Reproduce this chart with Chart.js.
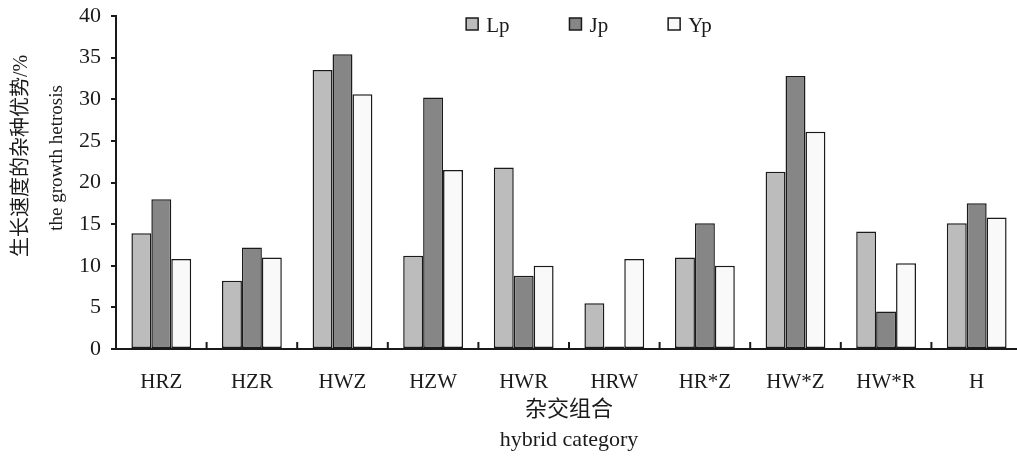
<!DOCTYPE html>
<html>
<head>
<meta charset="utf-8">
<script src="https://cdn.jsdelivr.net/npm/chart.js@4.4.1/dist/chart.umd.min.js"></script>
<style>
  html, body { margin: 0; padding: 0; background: #fff; overflow: hidden; }
  #wrap { width: 1024px; height: 459px; }
</style>
</head>
<body>
<div id="wrap"><canvas id="c" width="1024" height="459"></canvas></div>
<script>
// ---- data ----
const categories = ['HRZ', 'HZR', 'HWZ', 'HZW', 'HWR', 'HRW', 'HR*Z', 'HW*Z', 'HW*R', 'H'];
const seriesNames = ['Lp', 'Jp', 'Yp'];
const lpValues = [13.9, 8.2, 33.5, 11.2, 21.8, 5.5, 11.0, 21.3, 14.1, 15.1];
const jpValues = [18.0, 12.2, 35.4, 30.2, 8.8, 0.3, 15.1, 32.8, 4.5, 17.5];
const ypValues = [10.8, 11.0, 30.6, 21.5, 10.0, 10.8, 10.0, 26.1, 10.3, 15.8];
const yTickMin = 0, yTickMax = 40, yTickStep = 5;
const yTitleCn = '生长速度的杂种优势/%';
const yTitleEn = 'the growth hetrosis';
const xTitle = ['杂交组合', 'hybrid category'];

const fills = ['#bcbcbc', '#868686', '#f9f9f9'];
const ink = '#1a1a1a';
const FONT = "'Liberation Serif', 'Noto Sans CJK SC', serif";
Chart.defaults.font.family = FONT;
Chart.defaults.color = ink;

const legendPlugin = {
  id: 'customLegend',
  afterDraw(chart) {
    const ctx = chart.ctx;
    const ds = chart.data.datasets;
    ctx.save();
    ctx.font = "21px " + FONT;
    const box = 12, gapText = 8, gapItem = 60;
    let total = 0;
    const widths = ds.map(d => ctx.measureText(d.label).width);
    widths.forEach((w, i) => { total += box + gapText + w + (i < widths.length - 1 ? gapItem : 0); });
    const ca = chart.chartArea;
    let x = (ca.left + ca.right) / 2 + 20 - total / 2;
    const yc = 24;
    ds.forEach((d, i) => {
      ctx.fillStyle = d.backgroundColor;
      ctx.fillRect(x, yc - box / 2, box, box);
      ctx.lineWidth = 1.5;
      ctx.strokeStyle = ink;
      ctx.strokeRect(x, yc - box / 2, box, box);
      ctx.fillStyle = ink;
      ctx.textBaseline = 'middle';
      ctx.textAlign = 'left';
      ctx.fillText(d.label, x + box + gapText, yc + 2);
      x += box + gapText + widths[i] + gapItem;
    });
    ctx.restore();
  }
};

const yTitlePlugin = {
  id: 'yTitles',
  afterDraw(chart) {
    const ctx = chart.ctx;
    ctx.save();
    ctx.fillStyle = ink;
    ctx.textAlign = 'center';
    ctx.textBaseline = 'middle';
    ctx.translate(22, 156);
    ctx.rotate(-Math.PI / 2);
    ctx.font = "20px " + FONT;
    ctx.fillText(yTitleCn, 0, 0);
    ctx.restore();
    ctx.save();
    ctx.fillStyle = ink;
    ctx.textAlign = 'center';
    ctx.textBaseline = 'middle';
    ctx.translate(57, 158);
    ctx.rotate(-Math.PI / 2);
    ctx.font = "19px " + FONT;
    ctx.fillText(yTitleEn, 0, 0);
    ctx.restore();
  }
};

const xTickPlugin = {
  id: 'xInnerTicks',
  afterDatasetsDraw(chart) {
    const xs = chart.scales.x;
    const ctx = chart.ctx;
    const yb = chart.chartArea.bottom;
    ctx.save();
    ctx.strokeStyle = ink;
    ctx.lineWidth = 2;
    for (let i = 0; i < categories.length - 1; i++) {
      const x = (xs.getPixelForTick(i) + xs.getPixelForTick(i + 1)) / 2;
      ctx.beginPath();
      ctx.moveTo(x, yb);
      ctx.lineTo(x, yb - 7);
      ctx.stroke();
    }
    ctx.restore();
  }
};

const seriesValues = [lpValues, jpValues, ypValues];
new Chart(document.getElementById('c'), {
  type: 'bar',
  data: {
    labels: categories,
    datasets: seriesNames.map((n, i) => ({
      label: n,
      data: seriesValues[i],
      backgroundColor: fills[i],
      borderColor: ink,
      borderWidth: 1.5,
      borderSkipped: false,
      categoryPercentage: 0.66,
      barPercentage: 1.0
    }))
  },
  options: {
    responsive: false,
    animation: false,
    layout: { padding: { top: 16, right: 2, left: 0, bottom: 0 } },
    plugins: {
      legend: { display: false },
      tooltip: { enabled: false }
    },
    scales: {
      x: {
        grid: { display: true, drawOnChartArea: false, drawTicks: false },
        border: { display: true, color: ink, width: 2 },
        ticks: { font: { size: 21 }, color: ink, padding: 21, maxRotation: 0, autoSkip: false },
        title: { display: true, text: xTitle, font: { size: 22, lineHeight: 1.36 }, color: ink, padding: { top: 0, bottom: 4 } },
        afterFit(s) { s.height = 110; s.paddingLeft = 0; s.paddingRight = 0; }
      },
      y: {
        min: yTickMin, max: yTickMax,
        grid: { display: true, drawOnChartArea: false, drawTicks: true, tickLength: 5, color: ink, lineWidth: 2 },
        border: { display: true, color: ink, width: 2 },
        ticks: { stepSize: yTickStep, font: { size: 22 }, color: ink, padding: 10 },
        afterFit(s) { s.width = 116; s.paddingTop = 0; s.paddingBottom = 0; }
      }
    }
  },
  plugins: [legendPlugin, yTitlePlugin, xTickPlugin]
});
</script>
</body>
</html>
